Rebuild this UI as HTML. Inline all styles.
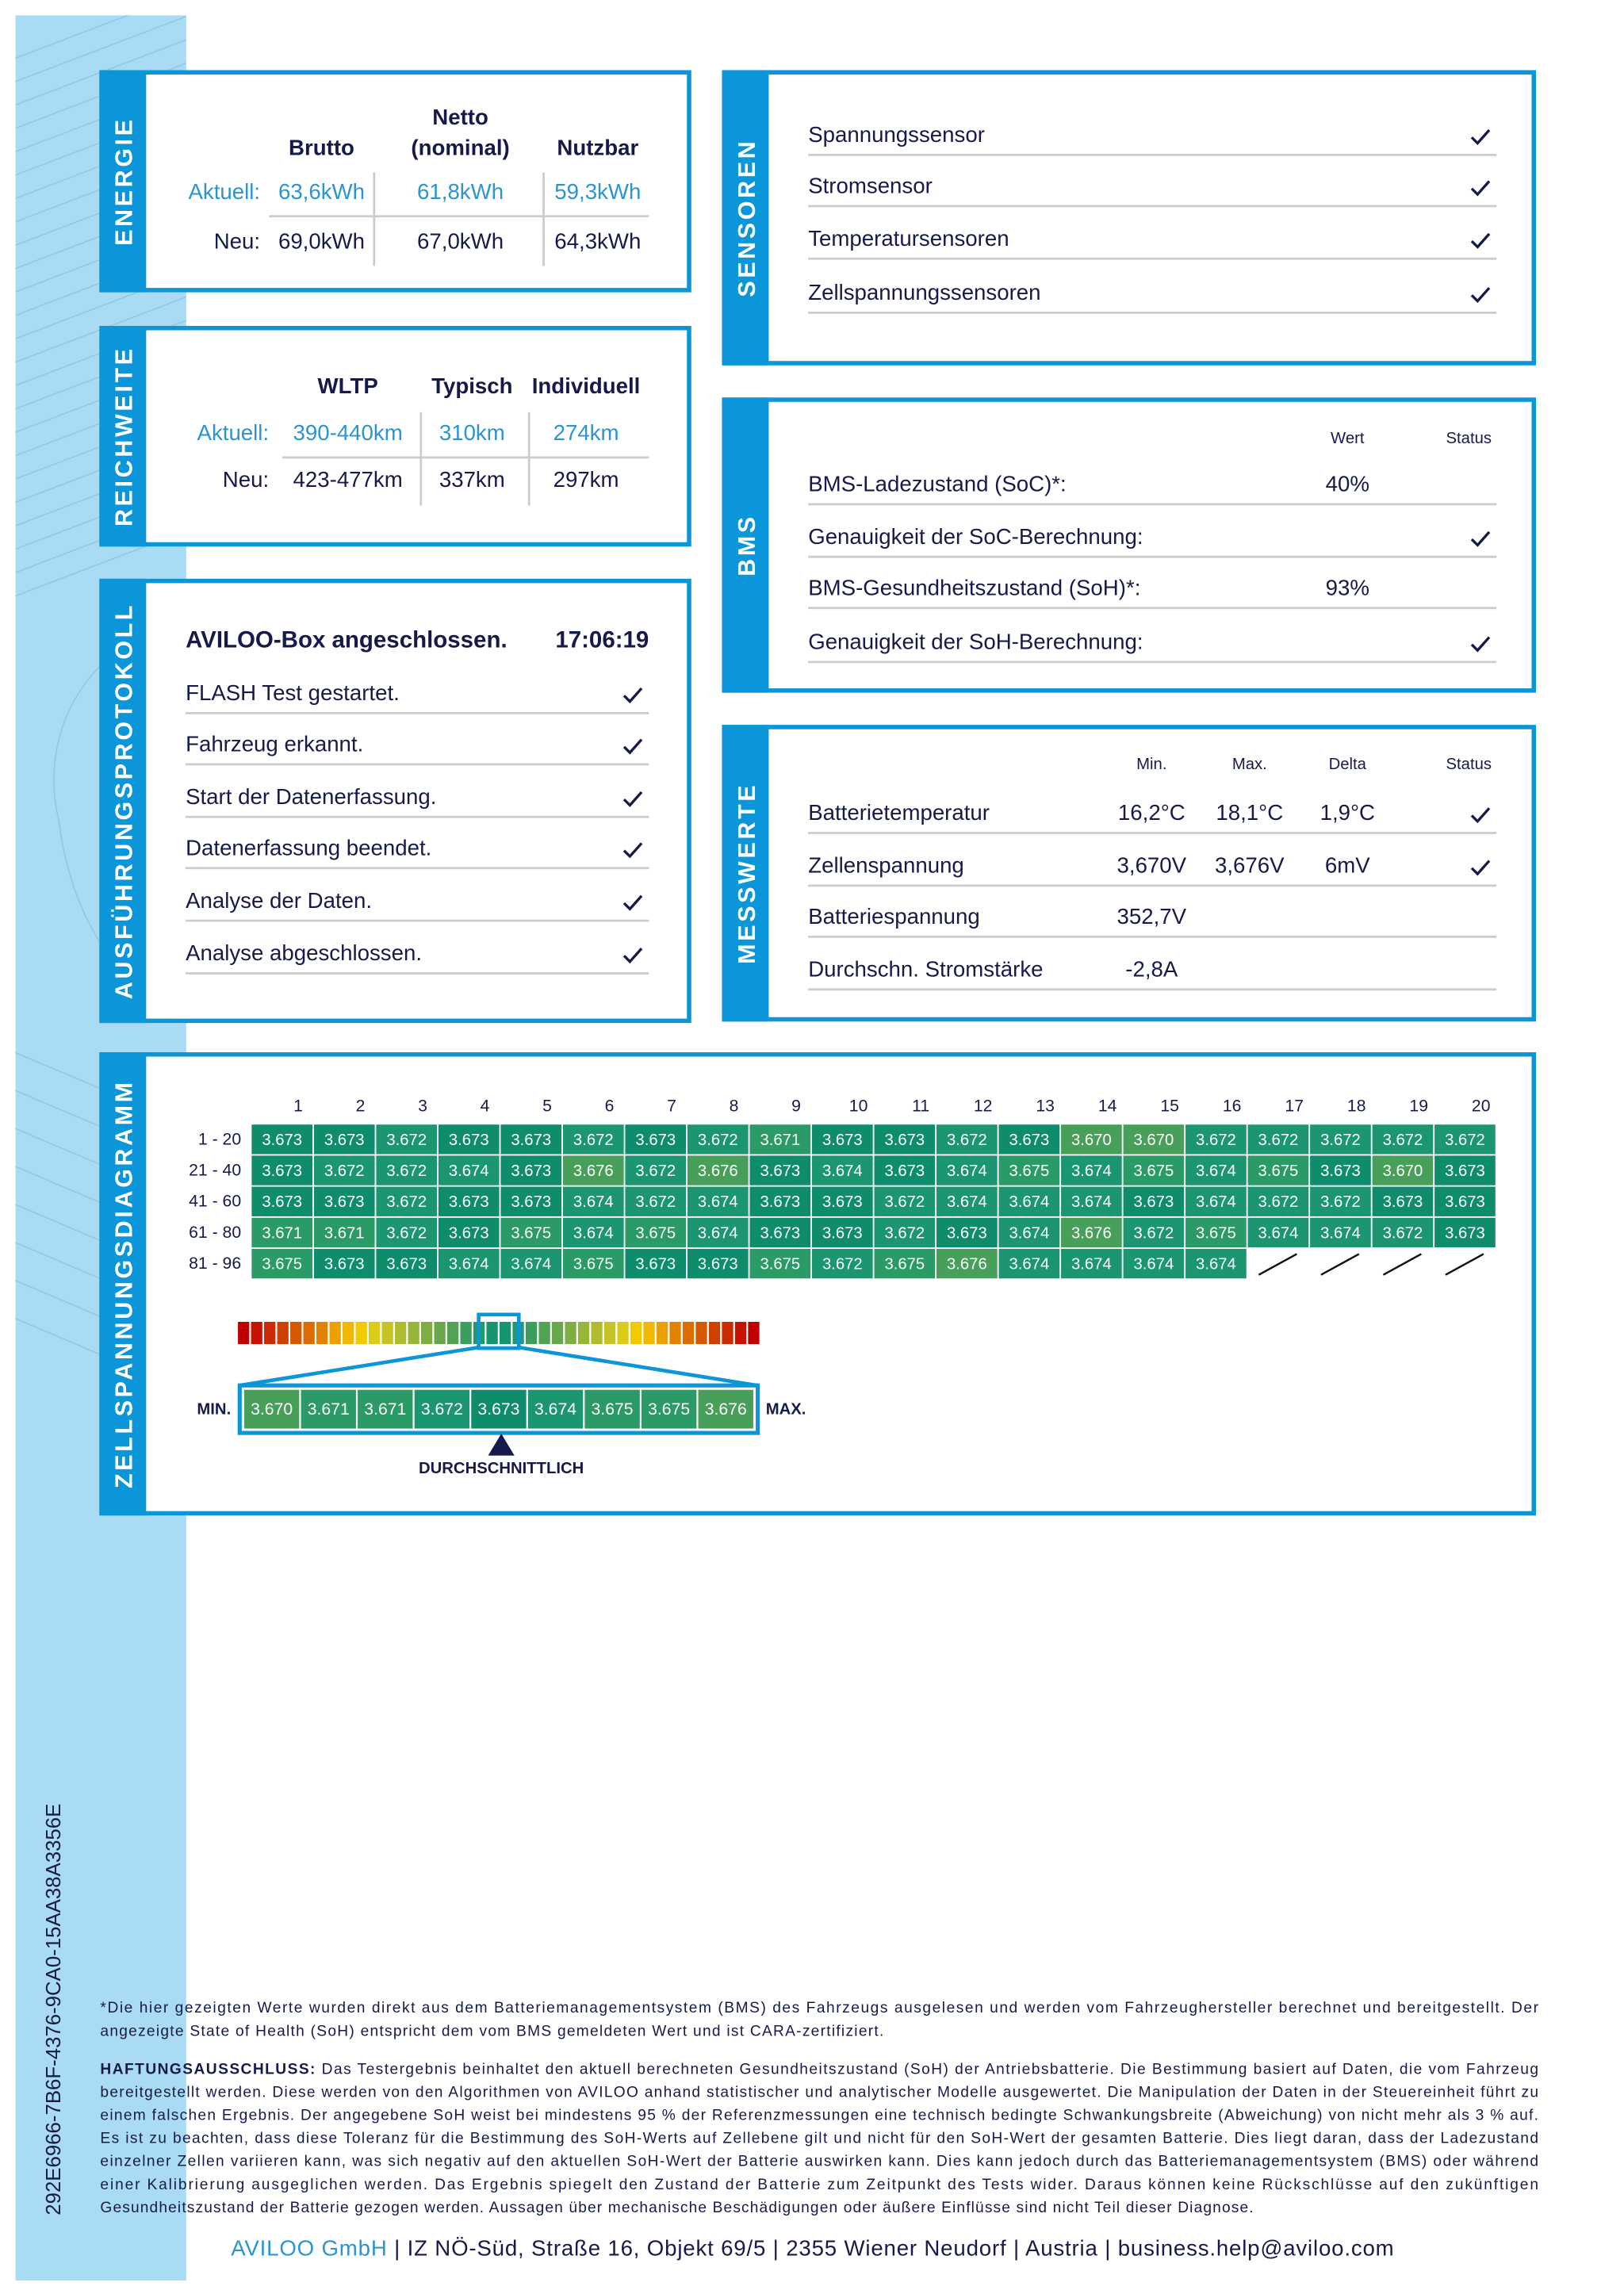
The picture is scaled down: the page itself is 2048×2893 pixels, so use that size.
<!DOCTYPE html>
<html><head><meta charset="utf-8"><style>
html,body{margin:0;padding:0;background:#fff;}
svg{display:block;font-family:"Liberation Sans",sans-serif;}
</style></head><body>
<svg id="page" xmlns="http://www.w3.org/2000/svg" width="2048" height="2893" viewBox="0 0 1111.2 1569.7">
<rect x="0" y="0" width="1111.2" height="1569.7" fill="#fff"/>
<defs><clipPath id="stripclip"><rect x="10.6" y="10.5" width="116.8" height="1550"/></clipPath></defs>
<g>
<rect x="10.6" y="10.5" width="116.8" height="1550" fill="#a9dcf4"/>
<g clip-path="url(#stripclip)" stroke="#8fc6e2" stroke-width="0.8" fill="none" id="hatch"></g>
<text transform="translate(37,1375) rotate(-90)" text-anchor="middle" dominant-baseline="central" font-size="14" fill="#161a4a">292E6966-7B6F-4376-9CA0-15AA38A3356E</text>
</g>

<g id="panels"></g>

<g font-size="15" fill="#161a4a" dominant-baseline="central">
<g stroke="none">
<text x="315" y="80" text-anchor="middle" font-weight="bold">Netto</text>
<text x="220" y="101" text-anchor="middle" font-weight="bold">Brutto</text>
<text x="315" y="101" text-anchor="middle" font-weight="bold">(nominal)</text>
<text x="409" y="101" text-anchor="middle" font-weight="bold">Nutzbar</text>
<text x="178" y="131" text-anchor="end" fill="#2b94d1">Aktuell:</text>
<text x="220" y="131" text-anchor="middle" fill="#2b94d1">63,6kWh</text>
<text x="315" y="131" text-anchor="middle" fill="#2b94d1">61,8kWh</text>
<text x="409" y="131" text-anchor="middle" fill="#2b94d1">59,3kWh</text>
<text x="178" y="165" text-anchor="end">Neu:</text>
<text x="220" y="165" text-anchor="middle">69,0kWh</text>
<text x="315" y="165" text-anchor="middle">67,0kWh</text>
<text x="409" y="165" text-anchor="middle">64,3kWh</text>
<g stroke="#cccccc" stroke-width="1.5"><line x1="256" y1="118" x2="256" y2="182"/><line x1="372" y1="118" x2="372" y2="182"/><line x1="184" y1="148" x2="444" y2="148"/></g>
</g>
<g>
<text x="238" y="264" text-anchor="middle" font-weight="bold">WLTP</text>
<text x="323" y="264" text-anchor="middle" font-weight="bold">Typisch</text>
<text x="401" y="264" text-anchor="middle" font-weight="bold">Individuell</text>
<text x="184" y="296" text-anchor="end" fill="#2b94d1">Aktuell:</text>
<text x="238" y="296" text-anchor="middle" fill="#2b94d1">390-440km</text>
<text x="323" y="296" text-anchor="middle" fill="#2b94d1">310km</text>
<text x="401" y="296" text-anchor="middle" fill="#2b94d1">274km</text>
<text x="184" y="328" text-anchor="end">Neu:</text>
<text x="238" y="328" text-anchor="middle">423-477km</text>
<text x="323" y="328" text-anchor="middle">337km</text>
<text x="401" y="328" text-anchor="middle">297km</text>
<g stroke="#cccccc" stroke-width="1.5"><line x1="288" y1="282" x2="288" y2="346"/><line x1="362" y1="282" x2="362" y2="346"/><line x1="193" y1="313" x2="444" y2="313"/></g>
</g>
<g>
<text x="127" y="438" font-weight="bold" font-size="16">AVILOO-Box angeschlossen.</text>
<text x="444" y="438" text-anchor="end" font-weight="bold" font-size="16">17:06:19</text>
</g>
<g id="rows"></g>
<text x="922" y="300" text-anchor="middle" font-size="11">Wert</text>
<text x="1005" y="300" text-anchor="middle" font-size="11">Status</text>
<text x="922" y="331" text-anchor="middle">40%</text>
<text x="922" y="402" text-anchor="middle">93%</text>
<text x="788" y="523" text-anchor="middle" font-size="11">Min.</text>
<text x="855" y="523" text-anchor="middle" font-size="11">Max.</text>
<text x="922" y="523" text-anchor="middle" font-size="11">Delta</text>
<text x="1005" y="523" text-anchor="middle" font-size="11">Status</text>
<text x="788" y="556" text-anchor="middle">16,2°C</text>
<text x="855" y="556" text-anchor="middle">18,1°C</text>
<text x="922" y="556" text-anchor="middle">1,9°C</text>
<text x="788" y="592" text-anchor="middle">3,670V</text>
<text x="855" y="592" text-anchor="middle">3,676V</text>
<text x="922" y="592" text-anchor="middle">6mV</text>
<text x="788" y="627" text-anchor="middle">352,7V</text>
<text x="788" y="663" text-anchor="middle">-2,8A</text>
</g>

<g id="grid" dominant-baseline="central"></g>
<g id="scale"></g>

<g font-size="10.4" fill="#161a4a">
<text x="68.6" y="1377" textLength="984" lengthAdjust="spacing">*Die hier gezeigten Werte wurden direkt aus dem Batteriemanagementsystem (BMS) des Fahrzeugs ausgelesen und werden vom Fahrzeughersteller berechnet und bereitgestellt. Der</text>
<text x="68.6" y="1393" textLength="536" lengthAdjust="spacing">angezeigte State of Health (SoH) entspricht dem vom BMS gemeldeten Wert und ist CARA-zertifiziert.</text>
<text x="68.6" y="1419" textLength="984" lengthAdjust="spacing"><tspan font-weight="bold">HAFTUNGSAUSSCHLUSS:</tspan> Das Testergebnis beinhaltet den aktuell berechneten Gesundheitszustand (SoH) der Antriebsbatterie. Die Bestimmung basiert auf Daten, die vom Fahrzeug</text>
<text x="68.6" y="1434.8" textLength="984" lengthAdjust="spacing">bereitgestellt werden. Diese werden von den Algorithmen von AVILOO anhand statistischer und analytischer Modelle ausgewertet. Die Manipulation der Daten in der Steuereinheit führt zu</text>
<text x="68.6" y="1450.6" textLength="984" lengthAdjust="spacing">einem falschen Ergebnis. Der angegebene SoH weist bei mindestens 95 % der Referenzmessungen eine technisch bedingte Schwankungsbreite (Abweichung) von nicht mehr als 3 % auf.</text>
<text x="68.6" y="1466.4" textLength="984" lengthAdjust="spacing">Es ist zu beachten, dass diese Toleranz für die Bestimmung des SoH-Werts auf Zellebene gilt und nicht für den SoH-Wert der gesamten Batterie. Dies liegt daran, dass der Ladezustand</text>
<text x="68.6" y="1482.2" textLength="984" lengthAdjust="spacing">einzelner Zellen variieren kann, was sich negativ auf den aktuellen SoH-Wert der Batterie auswirken kann. Dies kann jedoch durch das Batteriemanagementsystem (BMS) oder während</text>
<text x="68.6" y="1498" textLength="984" lengthAdjust="spacing">einer Kalibrierung ausgeglichen werden. Das Ergebnis spiegelt den Zustand der Batterie zum Zeitpunkt des Tests wider. Daraus können keine Rückschlüsse auf den zukünftigen</text>
<text x="68.6" y="1513.8" textLength="789" lengthAdjust="spacing">Gesundheitszustand der Batterie gezogen werden. Aussagen über mechanische Beschädigungen oder äußere Einflüsse sind nicht Teil dieser Diagnose.</text>
</g>
<text x="158" y="1543.5" font-size="15" fill="#161a4a" textLength="795.7" lengthAdjust="spacing"><tspan fill="#2b94d1">AVILOO GmbH</tspan>  |  IZ NÖ-Süd, Straße 16, Objekt 69/5  |  2355 Wiener Neudorf  |  Austria  |  business.help@aviloo.com</text>
</svg>
<script>
var NS='http://www.w3.org/2000/svg';
var colLabels=['1','2','3','4','5','6','7','8','9','10','11','12','13','14','15','16','17','18','19','20'];
var rowLabels=['1 - 20','21 - 40','41 - 60','61 - 80','81 - 96'];
var row1=[3.673,3.673,3.672,3.673,3.673,3.672,3.673,3.672,3.671,3.673,3.673,3.672,3.673,3.670,3.670,3.672,3.672,3.672,3.672,3.672];
var row2=[3.673,3.672,3.672,3.674,3.673,3.676,3.672,3.676,3.673,3.674,3.673,3.674,3.675,3.674,3.675,3.674,3.675,3.673,3.670,3.673];
var row3=[3.673,3.673,3.672,3.673,3.673,3.674,3.672,3.674,3.673,3.673,3.672,3.674,3.674,3.674,3.673,3.674,3.672,3.672,3.673,3.673];
var row4=[3.671,3.671,3.672,3.673,3.675,3.674,3.675,3.674,3.673,3.673,3.672,3.673,3.674,3.676,3.672,3.675,3.674,3.674,3.672,3.673];
var row5=[3.675,3.673,3.673,3.674,3.674,3.675,3.673,3.673,3.675,3.672,3.675,3.676,3.674,3.674,3.674,3.674];
var distValues=[3.670,3.671,3.671,3.672,3.673,3.674,3.675,3.675,3.676];
var averageValue=3.673;

function mk(tag,attrs,parent){var e=document.createElementNS(NS,tag);for(var k in attrs)e.setAttribute(k,attrs[k]);parent.appendChild(e);return e;}
var BLUE='#0b96d9',NAVY='#161a4a';

var hatch=document.getElementById('hatch');
for(var i=0;i<24;i++){mk('line',{x1:10,y1:40+i*16,x2:128,y2:-5+i*16},hatch);}
for(var i=0;i<8;i++){mk('line',{x1:10,y1:720+i*26,x2:128,y2:770+i*26},hatch);}
mk('path',{d:'M128,420 C40,450 30,520 40,560 C50,640 90,680 128,700'},hatch);
mk('path',{d:'M128,460 C70,480 70,560 80,600 C90,640 110,660 128,670'},hatch);

var panels=[['energie-panel','ENERGIE',68,48,405,152],['reichweite-panel','REICHWEITE',68,223,405,151],['protokoll-panel','AUSFÜHRUNGSPROTOKOLL',68,396,405,304],
['sensoren-panel','SENSOREN',494,48,557,202],['bms-panel','BMS',494,272,557,202],['messwerte-panel','MESSWERTE',494,496,557,203],['zellspannung-panel','ZELLSPANNUNGSDIAGRAMM',68,720,983,317]];
var pg=document.getElementById('panels');
panels.forEach(function(p){
  var g=mk('g',{},pg);
  
  
  mk('rect',{x:p[2],y:p[3],width:p[4],height:p[5],fill:'#fff'},g);
  mk('rect',{x:p[2]+1.5,y:p[3]+1.5,width:p[4]-3,height:p[5]-3,fill:'none',stroke:BLUE,'stroke-width':3},g);
  mk('rect',{x:p[2],y:p[3],width:32,height:p[5],fill:BLUE},g);
  var t=mk('text',{transform:'translate('+(p[2]+17)+','+(p[3]+p[5]/2)+') rotate(-90)','text-anchor':'middle','dominant-baseline':'central','font-size':16.5,'font-weight':'bold',fill:'#fff','letter-spacing':2},g);
  
  
  t.textContent=p[1];
});

var rowsG=document.getElementById('rows');
function check(x,y){var c=mk('polyline',{points:(x-6)+','+(y)+' '+(x-2)+','+(y+4)+' '+(x+6)+','+(y-5),fill:'none',stroke:NAVY,'stroke-width':1.8},rowsG);
  
  }
function listRows(items,x1,x2,ys,checkX,checks){
  items.forEach(function(s,i){
    var t=mk('text',{x:x1,y:ys[i],fill:NAVY},rowsG);
    
    
    t.textContent=s;
    mk('line',{x1:x1,y1:ys[i]+14,x2:x2,y2:ys[i]+14,stroke:'#cccccc','stroke-width':1.5},rowsG);
    if(checks[i])check(checkX,ys[i]+2);
  });
}
listRows(['FLASH Test gestartet.','Fahrzeug erkannt.','Start der Datenerfassung.','Datenerfassung beendet.','Analyse der Daten.','Analyse abgeschlossen.'],127,444,[474,509,545,580,616,652],433,[1,1,1,1,1,1]);
listRows(['Spannungssensor','Stromsensor','Temperatursensoren','Zellspannungssensoren'],553,1024,[92,127,163,200],1013,[1,1,1,1]);
listRows(['BMS-Ladezustand (SoC)*:','Genauigkeit der SoC-Berechnung:','BMS-Gesundheitszustand (SoH)*:','Genauigkeit der SoH-Berechnung:'],553,1024,[331,367,402,439],1013,[0,1,0,1]);
listRows(['Batterietemperatur','Zellenspannung','Batteriespannung','Durchschn. Stromstärke'],553,1024,[556,592,627,663],1013,[1,1,0,0]);

var gridG=document.getElementById('grid');
var X0=171.7,CW=42.6,Y0=769,RH=21.26;
function xs(c){return X0+c*CW;}
function ys(r){return Y0+r*RH;}
function cellColor(v){var d=Math.round(Math.abs(v-averageValue)*1000);return ['#0e8c6c','#1b9670','#2a9a66','#479f59'][Math.min(d,3)];}
colLabels.forEach(function(l,c){var t=mk('text',{x:xs(c)+CW/2+11,y:757,'text-anchor':'middle','font-size':11.5,fill:NAVY},gridG);
  
  
  t.textContent=l;});
var rowsData=[row1,row2,row3,row4,row5];
rowsData.forEach(function(arr,r){
  var t=mk('text',{x:165,y:ys(r)+RH/2,'text-anchor':'end','font-size':11.5,fill:NAVY},gridG);
  
  
  t.textContent=rowLabels[r];
  for(var c=0;c<20;c++){
    if(c<arr.length){
      var rc=mk('rect',{x:xs(c)+0.5,y:ys(r)+0.5,width:CW-1,height:RH-1,fill:cellColor(arr[c])},gridG);
      
      
      var tt=mk('text',{x:xs(c)+CW/2,y:ys(r)+RH/2+0.5,'text-anchor':'middle','font-size':11,fill:'#fff'},gridG);
      
      
      tt.textContent=arr[c].toFixed(3);
    } else {
      var sl=mk('line',{x1:xs(c)+8,y1:ys(r)+RH-3,x2:xs(c)+34,y2:ys(r)+4,stroke:'#111','stroke-width':1.3},gridG);
      
      
    }
  }
});

var sc=document.getElementById('scale');
var palette=['#c00000','#c81200','#cc2a00','#d04000','#d65800','#dc6c00','#e28200','#eca000','#f0b800','#f2ca00','#dccc18','#c6c424','#aebc2e','#96b638','#7eae42','#68a84a','#52a254','#3c9e5e','#209a6c','#16966e'];
var segs=palette.concat(palette.slice().reverse());
var BX0=162.2,BX1=520.2,SW=(BX1-BX0)/segs.length;
segs.forEach(function(col,i){var r=mk('rect',{x:BX0+i*SW+0.6,y:904.5,width:SW-1.2,height:15.2,fill:col},sc);
  
  });
var hb=mk('rect',{x:327.5,y:899.5,width:27.5,height:23,fill:'none',stroke:BLUE,'stroke-width':2.5},sc);


mk('line',{x1:327.5,y1:922,x2:164,y2:948,stroke:BLUE,'stroke-width':2.5},sc);
mk('line',{x1:355,y1:922,x2:518,y2:948,stroke:BLUE,'stroke-width':2.5},sc);
var zb=mk('rect',{x:164,y:948,width:354.5,height:32.5,fill:'#fff',stroke:BLUE,'stroke-width':2.8},sc);


var ZX0=166.5,ZW=(516-166.5)/distValues.length;
distValues.forEach(function(v,i){
  var r=mk('rect',{x:ZX0+i*ZW+0.6,y:951,width:ZW-1.2,height:26.5,fill:v===averageValue?'#0e8c6c':cellColor(v)},sc);
  
  
  var t=mk('text',{x:ZX0+i*ZW+ZW/2,y:964.5,'text-anchor':'middle','dominant-baseline':'central','font-size':11.5,fill:'#fff'},sc);
  
  
  t.textContent=v.toFixed(3);
});
var mn=mk('text',{x:158,y:964.5,'text-anchor':'end','dominant-baseline':'central','font-size':11,'font-weight':'bold',fill:NAVY},sc);


mn.textContent='MIN.';
var mx=mk('text',{x:524,y:964.5,'dominant-baseline':'central','font-size':11,'font-weight':'bold',fill:NAVY},sc);


mx.textContent='MAX.';
var tri=mk('polygon',{points:'343,981 334,996 352,996',fill:NAVY},sc);


var dl=mk('text',{x:343,y:1005,'text-anchor':'middle','dominant-baseline':'central','font-size':11,'font-weight':'bold',fill:NAVY},sc);


dl.textContent='DURCHSCHNITTLICH';
</script>
</body></html>
